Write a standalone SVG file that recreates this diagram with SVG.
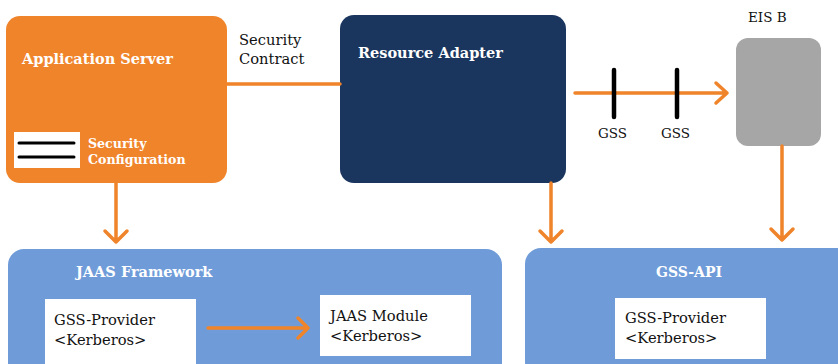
<svg xmlns="http://www.w3.org/2000/svg" width="838" height="364" viewBox="0 0 838 364">
<style>
.t{font-family:"DejaVu Serif","Liberation Serif",serif;}
.b{font-weight:bold;fill:#fff;font-size:14.5px;}
.bs{font-weight:bold;fill:#fff;font-size:12.6px;}
.r{fill:#111;font-size:14.7px;}
.s{font-size:13.5px;}
.c{fill:none;stroke:#F0842A;stroke-width:3.5;stroke-linecap:round;stroke-linejoin:round;}
.bar{stroke:#000;stroke-width:4.5;stroke-linecap:round;}
</style>
<rect width="838" height="364" fill="#fff"/>
<g id="jaas">
<rect x="8" y="249" width="494" height="130" rx="16" fill="#6F9CD9"/>
<text class="t b" x="76" y="277">JAAS Framework</text>
</g>
<g id="gssprov1">
<rect x="45" y="299" width="151" height="70" fill="#fff"/>
<text class="t r" x="54" y="325">GSS-Provider</text>
<text class="t r" x="54" y="345">&lt;Kerberos&gt;</text>
</g>
<g id="jaasmod">
<rect x="320" y="295" width="151" height="61" fill="#fff"/>
<text class="t r" x="330" y="321">JAAS Module</text>
<text class="t r" x="330" y="341">&lt;Kerberos&gt;</text>
</g>
<g id="gssapi">
<rect x="525" y="248" width="330" height="130" rx="16" fill="#6F9CD9"/>
<text class="t b" x="689" y="277" text-anchor="middle" style="font-size:14px">GSS-API</text>
</g>
<g id="gssprov2">
<rect x="615" y="298" width="151" height="61" fill="#fff"/>
<text class="t r" x="625" y="323">GSS-Provider</text>
<text class="t r" x="625" y="343">&lt;Kerberos&gt;</text>
</g>
<g id="appserver">
<rect x="6" y="16" width="221" height="167" rx="14" fill="#F0842A"/>
<text class="t b" x="22" y="64">Application Server</text>
<rect x="14" y="132" width="66" height="36" fill="#fff"/>
<line x1="19" y1="143" x2="74" y2="143" stroke="#000" stroke-width="3" stroke-linecap="round"/>
<line x1="19" y1="157" x2="74" y2="157" stroke="#000" stroke-width="3" stroke-linecap="round"/>
<text class="t bs" x="88" y="148">Security</text>
<text class="t bs" x="88" y="164">Configuration</text>
</g>
<g id="ra">
<rect x="340" y="15" width="226" height="168" rx="14" fill="#1A365E"/>
<text class="t b" x="358" y="58">Resource Adapter</text>
</g>
<g id="eisb">
<text class="t r s" x="748" y="22">EIS B</text>
<rect x="736" y="38" width="85" height="108" rx="12" fill="#A6A6A6"/>
</g>
<g id="connectors">
<line class="c" x1="227" y1="84" x2="340" y2="84"/>
<text class="t r" x="239" y="45">Security</text>
<text class="t r" x="239" y="64">Contract</text>
<path class="c" d="M116 183V242M105 231L116 242L127 231"/>
<path class="c" d="M551 183V242M540 231L551 242L562 231"/>
<path class="c" d="M782 146V240M771 229L782 240L793 229"/>
<path class="c" d="M575 93H727M716 83L727 93L716 103"/>
<line class="bar" x1="614" y1="70" x2="614" y2="117"/>
<line class="bar" x1="677" y1="70" x2="677" y2="117"/>
<text class="t r s" x="598" y="138">GSS</text>
<text class="t r s" x="661" y="138">GSS</text>
<path class="c" d="M208 328H308M298 318L308 328L298 338"/>
</g>
</svg>
